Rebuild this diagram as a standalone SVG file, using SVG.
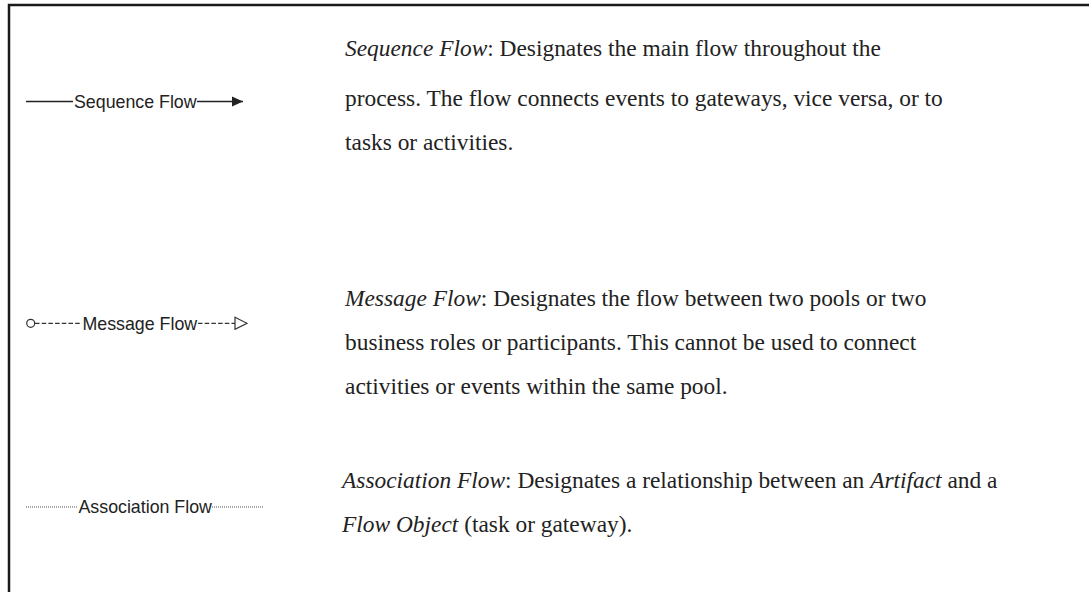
<svg xmlns="http://www.w3.org/2000/svg" width="1089" height="592" viewBox="0 0 1089 592">
<style>
.lbl{font-family:"Liberation Sans",Arial,sans-serif;font-size:17.8px;fill:#222}
.desc{font-family:"Liberation Serif","Times New Roman",serif;font-size:23.4px;fill:#222}
.ln{stroke:#222;stroke-width:1.3;fill:none}
.dash{stroke:#333;stroke-width:1.2;stroke-dasharray:4.5,2.2;fill:none}
.dot{stroke:#555;stroke-width:1.2;stroke-dasharray:1,1;fill:none}
</style>
<defs>
<marker id="solidArrow" markerWidth="12" markerHeight="11" refX="11" refY="5.5" orient="auto" markerUnits="userSpaceOnUse">
<path d="M0,0.5 L11,5.5 L0,10.5 Z" fill="#222"/>
</marker>
<marker id="openArrow" markerWidth="14" markerHeight="14" refX="13" refY="7" orient="auto" markerUnits="userSpaceOnUse">
<path d="M1,1 L13,7 L1,13 Z" fill="#fff" stroke="#333" stroke-width="1.2"/>
</marker>
</defs>
<rect width="1089" height="592" fill="#fff"/>
<path d="M9,592 V5 H1089" fill="none" stroke="#1a1a1a" stroke-width="2.5"/>
<g id="connectors">
<line class="ln" x1="26" y1="101.5" x2="73" y2="101.5"/>
<line class="ln" x1="197" y1="101.5" x2="243" y2="101.5" marker-end="url(#solidArrow)"/>
<circle cx="30.7" cy="323.3" r="4" fill="#fff" stroke="#333" stroke-width="1.2"/>
<line class="dash" x1="35" y1="323.3" x2="82" y2="323.3"/>
<line class="dash" x1="198" y1="323.3" x2="247" y2="323.3" marker-end="url(#openArrow)"/>
<line class="dot" x1="26" y1="507" x2="78" y2="507"/>
<line class="dot" x1="212" y1="507" x2="263" y2="507"/>
</g>
<g id="sequence-flow">
<text class="lbl" x="74" y="107.5">Sequence Flow</text>
<text class="desc" x="345" y="56"><tspan font-style="italic">Sequence Flow</tspan>: Designates the main flow throughout the</text>
<text class="desc" x="345" y="106">process. The flow connects events to gateways, vice versa, or to</text>
<text class="desc" x="345" y="150">tasks or activities.</text>
</g>
<g id="message-flow">
<text class="lbl" x="82.5" y="329.5">Message Flow</text>
<text class="desc" x="345" y="306"><tspan font-style="italic">Message Flow</tspan>: Designates the flow between two pools or two</text>
<text class="desc" x="345" y="350">business roles or participants. This cannot be used to connect</text>
<text class="desc" x="345" y="394">activities or events within the same pool.</text>
</g>
<g id="association-flow">
<text class="lbl" x="78.5" y="513">Association Flow</text>
<text class="desc" x="342" y="488"><tspan font-style="italic">Association Flow</tspan>: Designates a relationship between an <tspan font-style="italic">Artifact</tspan> and a</text>
<text class="desc" x="342" y="532"><tspan font-style="italic">Flow Object</tspan> (task or gateway).</text>
</g>
</svg>
